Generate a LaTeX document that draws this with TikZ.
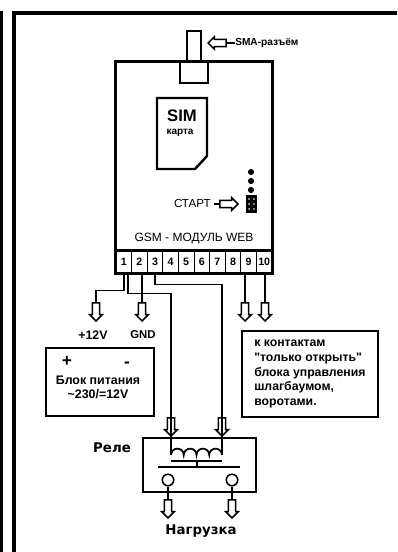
\documentclass[tikz,border=0pt]{standalone}
\usepackage{fontspec}
\setmainfont{Liberation Sans}[Ligatures=TeXOff]
\newfontfamily\relayfont{DejaVu Sans}
\usetikzlibrary{shapes.arrows}
\tikzset{
	thick line/.style={line width=1.8pt},
	wire/.style={line width=1.3pt},
	frame box/.style={draw,line width=1.2pt,inner sep=0pt},
	hollow arrow/.style={draw,line width=1.1pt,fill=white,single arrow,inner xsep=0pt,inner ysep=2.2pt,
		minimum height=13.5pt,minimum width=8.6pt,single arrow head extend=2pt,single arrow tip angle=90},
	term/.style={draw,line width=.7pt,inner sep=0pt,minimum width=11.7pt,minimum height=15.75pt,
		font=\bfseries\fontsize{8}{8}\selectfont},
	label/.style={inner sep=0pt,font=\bfseries\fontsize{9.3}{10.5}\selectfont},
	note/.style={inner sep=0pt,font=\bfseries\fontsize{9.2}{10.9}\selectfont,align=left},
	relay label/.style={inner sep=0pt,font=\relayfont\bfseries\fontsize{10}{10}\selectfont},
	contact/.style={circle,draw,line width=1.2pt,fill=white,inner sep=0pt,minimum size=8.6pt},
	pin/.style={circle,fill=black,inner sep=0pt,minimum size=4.6pt}
}
\begin{document}
\begin{tikzpicture}[x=0.75pt,y=-0.75pt]
	\useasboundingbox (0,0) rectangle (397,552);
	% frame
	\fill (0,11) rectangle (3,552);
	\fill (12,11) rectangle (397,15);
	\fill (12,11) rectangle (16,552);

	% module
	\node[draw,thick line,minimum width=117pt,minimum height=158.25pt,inner sep=0pt] (module) at (194,167.5) {};
	\draw[thick line] (116,250) -- (272,250);
	\foreach \i in {1,...,10} \node[term] (t\i) at (108.2+\i*15.6,261.5) {\i};
	\draw[thick line] (module.north west) rectangle (module.south east);

	% antenna
	\node[draw,thick line,minimum width=10.5pt,minimum height=23.25pt,inner sep=0pt] (antenna) at (194,46.5) {};
	\node[draw,thick line,fill=white,minimum width=21pt,minimum height=15.75pt,inner sep=0pt] (socket) at (194,72.5) {};
	\node[hollow arrow,rotate=180,anchor=tip] (arSMA) at (207,43) {};
	\node[inner sep=0pt,anchor=west,font=\bfseries\fontsize{7.6}{9}\selectfont] (sma) at (235,43) {SMA-разъём};
	\draw[wire] (arSMA.tail) -- (sma.west);

	% sim
	\draw[thick line] (157,98) -- (207,98) -- (207,156) -- (195,169) -- (157,169) -- cycle;
	\node[inner sep=0pt,font=\bfseries\fontsize{12.5}{13}\selectfont] (sim) at (182,116) {SIM};
	\node[inner sep=0pt,font=\bfseries\fontsize{7.5}{8}\selectfont] (card) at (180,133) {карта};

	% start jumper
	\foreach \i/\y in {1/172,2/181,3/190} \node[pin] (pin\i) at (251,\y) {};
	\node[fill=black,inner sep=0pt,minimum width=8.25pt,minimum height=13.5pt] (jumper) at (251.5,204) {};
	\foreach \x in {-2.5,2.5} \foreach \y in {-5,0,5} \fill[white] (251.5+\x,204+\y) circle (.7pt);
	\node[inner sep=0pt,anchor=east,font=\fontsize{8.7}{9}\selectfont] (start) at (211,204) {СТАРТ};
	\node[hollow arrow,anchor=tip] (arStart) at (239,204) {};
	\draw[wire] (start.east) ++(3,0) -- (arStart.tail);

	\node[inner sep=0pt,font=\fontsize{9}{9}\selectfont] (title) at (194,239) {GSM - МОДУЛЬ WEB};

	% arrows
	\node[hollow arrow,rotate=-90,anchor=tip] (ar12) at (96,322) {};
	\node[hollow arrow,rotate=-90,anchor=tip] (arGND) at (142,322) {};
	\node[hollow arrow,rotate=-90,anchor=tip] (ar9) at (245,322) {};
	\node[hollow arrow,rotate=-90,anchor=tip] (ar10) at (265,322) {};
	\node[hollow arrow,rotate=-90,anchor=tip] (arCoilL) at (171,437) {};
	\node[hollow arrow,rotate=-90,anchor=tip] (arCoilR) at (222,437) {};
	\node[hollow arrow,rotate=-90,anchor=tip] (arLoadL) at (168,519) {};
	\node[hollow arrow,rotate=-90,anchor=tip] (arLoadR) at (232,519) {};

	% relay
	\node[frame box,minimum width=84.75pt,minimum height=40.5pt] (relay) at (199.5,465) {};
	\coordinate (coilL) at (171,455);
	\coordinate (coilR) at (222,455);
	\draw[wire] (coilL) arc[start angle=180,end angle=0,radius=4.78pt] arc[start angle=180,end angle=0,radius=4.78pt]
		arc[start angle=180,end angle=0,radius=4.78pt] arc[start angle=180,end angle=0,radius=4.78pt];
	\draw[line width=1.5pt] (171,461) -- (222,461);
	\draw[line width=1.5pt] (158,467) -- (240,467);
	\draw[wire] (197,461) -- (197,467);
	\node[contact] (contactL) at (168,480) {};
	\node[contact] (contactR) at (232,480) {};
	\draw[wire] (contactL.south) -- (arLoadL.tail);
	\draw[wire] (contactR.south) -- (arLoadR.tail);
	\node[relay label] (rele) at (112,448) {Реле};
	\node[relay label] (load) at (201,531) {Нагрузка};

	% wires
	\draw[wire] (t1.south) -- ++(0,18) -| (ar12.tail);
	\draw[wire] ([xshift=3pt]t1.south) -- ++(0,21) -| (coilL);
	\draw[wire] (t3.south) -- ++(0,12) -| (coilR);
	\draw[wire] (arGND.tail |- t2.south) -- (arGND.tail);
	\draw[wire] (ar9.tail |- t9.south) -- (ar9.tail);
	\draw[wire] (ar10.tail |- t10.south) -- (ar10.tail);

	% power
	\node[label] (plus12) at (93,335) {+12V};
	\node[label,font=\bfseries\fontsize{8.5}{9}\selectfont] (gnd) at (143,335) {GND};
	\node[frame box,minimum width=81pt,minimum height=51pt] (power) at (100,382) {};
	\node[inner sep=0pt,font=\bfseries\fontsize{13}{13}\selectfont] (plus) at (67,361) {+};
	\node[inner sep=0pt,font=\bfseries\fontsize{13}{13}\selectfont] (minus) at (127,365) {-};
	\node[label,align=center] (powertext) at (98,387) {Блок питания\\\char`\~230/=12V};

	% note
	\node[frame box,minimum width=102pt,minimum height=64.5pt] (notebox) at (310,374) {};
	\node[note,anchor=west] (notetext) at (254,374) {к контактам\\"только открыть"\\блока управления\\шлагбаумом,\\воротами.};
\end{tikzpicture}
\end{document}
